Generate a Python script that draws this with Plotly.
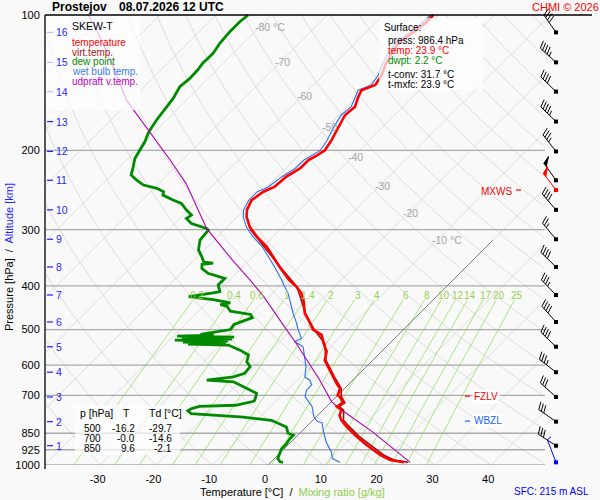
import numpy as np
import plotly.graph_objects as go

FONT = "Liberation Sans, Arial, sans-serif"
BG = "#f9f9f9"

# ---- sounding: pressure [hPa], temperature [°C] ----
temp_p = [986.4, 975, 950, 903, 865, 850, 822, 795, 775, 755, 742, 727, 705, 700,
          676, 659, 637, 610, 585, 560, 537, 514, 500, 481, 460, 430, 416, 402, 388,
          363, 327, 311, 296, 281, 271, 258, 253, 247, 241, 229, 219, 210, 206, 200,
          190, 177, 167, 160, 152, 147, 143, 136, 129, 122, 116, 110, 104, 100]
temp_t = [23.9, 21.0, 18.3, 14.1, 10.8, 9.6, 7.2, 5.1, 3.9, 3.3, 1.9, 2.3, 0.6, 0.0,
          -0.8, -2.3, -4.1, -6.5, -8.6, -9.8, -11.8, -13.7, -16.2, -18.2, -20.6, -23.2, -24.7, -26.8, -29.4,
          -33.4, -39.4, -42.9, -45.9, -48.3, -49.5, -50.4, -50.1, -49.8, -48.7, -48.4, -47.4, -47.4, -46.8, -46.2,
          -46.8, -48.0, -48.9, -48.6, -49.8, -50.4, -48.9, -49.5, -50.7, -51.6, -52.2, -51.6, -51.0, -51.0]

virt_p = [986.4, 975, 950, 903, 865, 822, 795, 755, 742, 727, 705, 676, 637, 585, 537, 500, 460, 402, 363, 300]
virt_t = [24.6, 21.7, 18.9, 14.7, 11.3, 7.7, 5.5, 3.7, 2.3, 2.6, 0.9, -0.6, -3.9, -8.4, -11.6, -16.0, -20.5, -26.7, -33.3, -45.3]

dew_p = [986.4, 983.8, 967.6, 943.6, 920, 897, 874.4, 858.6, 850, 823.7, 795.5, 783, 775.1, 768.9, 757.4,
         749.2, 741, 736.6, 721.8, 717.8, 700, 693, 675.6, 653.2, 647.6, 636.7, 625.6, 604.9, 589.7,
         569.7, 555.6, 541.4, 538.6, 535.8, 533.1, 530.3, 527.6, 524.9, 522.2, 519.6, 516.9, 514.3,
         512.6, 500, 487, 478.8, 470.6, 462.9, 455.2, 443.8, 440.1, 436.4, 429.2, 425.6, 422.3, 415.1,
         411.8, 398, 384.7, 375, 365.6, 358, 356, 354, 344.3, 332.8, 316.3, 300.5, 298.1, 290.6, 283.3,
         278.4, 271.3, 262.2, 257.8, 251.3, 247, 242.8, 238.7, 232.7, 226.8, 217.4, 208.3, 199.6, 191.3,
         183.3, 180, 171.1, 159.9, 153.2, 144.3, 138.3, 132.5, 128, 121.7, 115.6, 108.9, 103.5, 100]
dew_t = [2.2, 1.6, 0.6, 0.0, -0.5, -0.5, -0.8, -0.8, -2.1, -3.5, -7.4, -13.0, -19.9, -23.0, -24.1,
         -23.8, -22.8, -16.5, -14.0, -14.0, -14.6, -14.9, -17.6, -21.1, -26.2, -22.0, -20.6, -20.8, -22.3,
         -23.2, -25.6, -28.6, -36.0, -29.4, -37.3, -29.4, -39.1, -29.0, -38.2, -29.0, -39.4, -33.0,
         -35.5, -31.0, -31.3, -30.1, -29.2, -30.1, -34.3, -35.8, -37.3, -35.8, -39.4, -42.1, -44.4, -40.9,
         -39.7, -41.2, -41.2, -45.1, -47.1, -47.8, -46.0, -47.9, -49.2, -51.0, -52.5, -52.8, -53.4, -57.0, -58.8,
         -58.5, -60.3, -62.4, -64.5, -67.2, -67.7, -69.5, -72.5, -74.6, -76.5, -77.6, -78.8, -79.4, -80.0,
         -80.9, -81.2, -81.8, -82.4, -82.7, -83.6, -83.3, -83.4, -83.7, -83.6, -84.2, -84.5, -84.5, -84.2]

wet_p = [986.4, 967.6, 935, 889, 836, 807, 800, 780, 741, 705, 682, 664, 648, 637, 605, 575, 546, 532,
         523, 501, 484, 460, 437, 416, 402, 388, 363, 327, 311, 296, 281, 271, 258, 247, 241, 229, 219,
         210, 200, 190, 177, 167, 160, 152, 147, 143, 136, 129, 122, 116, 110, 104, 100]
wet_t = [12.4, 10.4, 9.0, 6.3, 3.6, 2.2, 1.0, -0.5, -2.6, -5.6, -6.5, -6.5, -7.7, -9.2, -10.8, -12.8, -14.9, -17.3,
         -16.7, -18.8, -20.3, -22.7, -25.0, -27.1, -28.9, -30.7, -34.3, -40.2, -43.6, -46.5, -48.9, -50.1, -50.9, -50.9, -49.8, -49.2, -48.3,
         -48.2, -47.0, -47.6, -48.8, -49.6, -49.3, -50.4, -51.0, -49.6, -50.1, -51.3, -52.2, -52.8, -52.2, -51.6, -51.5]

parcel_p = [986.4, 845, 749, 724, 648, 580, 537, 494, 441, 422, 388, 351, 298, 237, 210, 183, 155, 128, 106, 100]
parcel_t = [25.0, 12.9, 2.7, 0.1, -5.9, -12.2, -16.7, -21.7, -28.3, -31.0, -36.4, -43.0, -53.4, -65.1, -72.2,
            -80.6, -90.6, -100.0, -109.6, -112.9]

# altitude scale (km) and the pressure of each level; winds are plotted at the same levels
alt_km = list(range(1, 17))
alt_p = [906, 801, 706, 622, 546, 481, 419, 363, 315, 271, 233, 201, 172.5, 148, 127.4, 109.3]
wind_dir = [303, 305, 312, 308, 314, 318, 316, 314, 320, 319, 325, 322, 314, 314, 312, 325]
wind_kt = [30, 30, 30, 35, 40, 40, 35, 40, 25, 40, 50, 35, 45, 40, 45, 40]
sfc_dir, sfc_kt = 339, 5
mxws_p, mxws_dir, mxws_kt = 244.9, 323, 50
fzlv_p = 703
wbzl_p = 799

sfc_press, sfc_temp, sfc_dwpt, t_conv, t_mxfc = 986.4, 23.9, 2.2, 31.7, 23.9
table_p = [500, 700, 850]
table_t = [-16.2, -0.0, 9.6]
table_td = [-29.7, -14.6, -2.1]

pressure_ticks = [100, 200, 300, 400, 500, 600, 700, 850, 925, 1000]
temp_ticks = [-30, -20, -10, 0, 10, 20, 30, 40]
iso_label_t = [-80, -70, -60, -50, -40, -30, -20, -10]
iso_label_p = [106.3, 127.2, 151.4, 177.4, 206.9, 240, 275.5, 316.3]
mix_ratios = [0.2, 0.4, 0.6, 1, 1.4, 2, 3, 4, 6, 8, 10, 12, 14, 17, 20, 25]
mix_label_p = 419

# ---- geometry of the skew-T ----
W, H = 600, 500
ML, MR, MT, MB = 45, 5, 0, 35
PW, PH = W - ML - MR, H - MT - MB
PX_DEG = 5.58          # pixels per °C along an isobar
PX_DEC = 450.0         # pixels per decade of pressure
T0_PX = 223            # 0 °C at 1000 hPa, pixels from the plot's left edge
x_range = [-T0_PX / PX_DEG, (PW - T0_PX) / PX_DEG]
y_range = [3.0, 3.0 - PH / PX_DEC]
SKEW = PX_DEC / np.log(10) / PX_DEG     # 45° isotherms
X_EDGE = (500 - T0_PX) / PX_DEG         # diagram ends at x = 545 px


def skx(t, p):
    return np.asarray(t, float) + SKEW * np.log(1000.0 / np.asarray(p, float))


def xpx(x):
    return x_range[0] + (x - ML) / PX_DEG


def paper(x, y):
    return (x - ML) / PW, (H - MB - y) / PH


def joined(lines):
    xs, ys = [], []
    for X, P in lines:
        X = np.asarray(X, float)
        for a, b in zip(X, P):
            xs.append(None if (np.isnan(a) or a > X_EDGE) else float(a))
            ys.append(float(b))
        xs.append(None)
        ys.append(None)
    return xs, ys


fig = go.Figure()

def line(x, y, color, width, **kw):
    fig.add_trace(go.Scatter(x=x, y=y, mode="lines", line=dict(color=color, width=width),
                             hoverinfo="skip", connectgaps=False, **kw))

# ---- background lines ----
pp = np.geomspace(100, 1000, 400)
iso = [(skx(np.full_like(pp, t), pp), pp) for t in range(-140, 60, 10)]
line(*joined(iso), "#d6d6d6", 0.8)

theta = [(skx((th + 273.15) * (pp / 1000.0) ** 0.2857 - 273.15, pp), pp) for th in range(-40, 210, 10)]
line(*joined(theta), "#d6d6d6", 0.8)

pm = np.geomspace(430, 1000, 60)
mix = []
for w in mix_ratios:
    e = w * pm / (622.0 + w)
    g = np.log(e / 6.112)
    mix.append((skx(243.5 * g / (17.67 - g), pm), pm))
line(*joined(mix), "#9fe372", 0.9)

bars = [([x_range[0], X_EDGE], [p, p]) for p in pressure_ticks[1:]]
line(*joined(bars), "#aaaaaa", 1.3)

p0 = np.geomspace(316, 1000, 20)
line(*joined([(skx(np.zeros_like(p0), p0), p0)]), "#777777", 0.9)

# altitude ticks
kx, ky = [], []
for p in alt_p:
    kx += [xpx(47), xpx(53), None]
    ky += [p, p, None]
line(kx, ky, "#1f1fff", 1.2)

# level marks
line([xpx(465), xpx(470)], [fzlv_p, fzlv_p], "#ff0000", 1.2)
line([xpx(465), xpx(470)], [wbzl_p, wbzl_p], "#2266ee", 1.2)
line([xpx(516), xpx(521)], [mxws_p, mxws_p], "#ff0000", 1.2)

# ---- sounding ----
line(skx(dew_t, dew_p), dew_p, "#008a00", 2.8)
line(skx(wet_t, wet_p), wet_p, "#2a6fe8", 1.1)
line(skx(parcel_t, parcel_p), parcel_p, "#b000b0", 1.1)
line(skx(virt_t, virt_p), virt_p, "#9a1010", 1.6)
line(skx(temp_t, temp_p), temp_p, "#ff0000", 2.6)

# ---- wind barbs ----
XB = xpx(556)


def barb(p_lev, wdir, kt, length=21.0):
    a = np.radians(wdir)
    ux, uy = np.sin(a), -np.cos(a)
    lean = np.radians(20)
    vx = -uy * np.cos(lean) + ux * np.sin(lean)
    vy = ux * np.cos(lean) + uy * np.sin(lean)
    segs = [[(0, 0), (ux * length, uy * length)]]
    flags = []
    n50, rest = divmod(int(kt), 50)
    n10, rest = divmod(rest, 10)
    s = length
    for _ in range(n50):
        flags.append([(ux * s, uy * s), (ux * s + vx * 8, uy * s + vy * 8), (ux * (s - 4), uy * (s - 4))])
        s -= 6
    for _ in range(n10):
        segs.append([(ux * s, uy * s), (ux * s + vx * 8, uy * s + vy * 8)])
        s -= 3
    if rest >= 5:
        segs.append([(ux * s, uy * s), (ux * s + vx * 5, uy * s + vy * 5)])

    def conv(pts):
        return [XB + dx / PX_DEG for dx, dy in pts], [p_lev * 10 ** (dy / PX_DEC) for dx, dy in pts]
    return [conv(sg) for sg in segs], [conv(f) for f in flags]


def draw_barb(p_lev, wdir, kt, color, length=21.0):
    segs, flags = barb(p_lev, wdir, kt, length)
    bx, by = [], []
    for X, P in segs:
        bx += X + [None]
        by += P + [None]
    line(bx, by, color, 1.0)
    for X, P in flags:
        fig.add_trace(go.Scatter(x=X + [X[0]], y=P + [P[0]], mode="lines", fill="toself",
                                 fillcolor=color, line=dict(color=color, width=1), hoverinfo="skip"))


for p, d, k in zip(alt_p, wind_dir, wind_kt):
    draw_barb(p, d, k, "black")
draw_barb(mxws_p, mxws_dir, mxws_kt, "#ff0000")
draw_barb(sfc_press, sfc_dir, sfc_kt, "#0000ff", length=24)

fig.add_trace(go.Scatter(x=[XB] * len(alt_p), y=alt_p, mode="markers", hoverinfo="skip",
                         marker=dict(symbol="square", size=4, color="black")))
fig.add_trace(go.Scatter(x=[XB, XB], y=[mxws_p, sfc_press], mode="markers", hoverinfo="skip",
                         marker=dict(symbol="square", size=4, color=["#ff0000", "#0000ff"])))

# ---- texts ----
anns = []


def note(text, x, y, size=10, color="black", xanchor="left", bold=False, **kw):
    px_, py_ = paper(x, y)
    if bold:
        text = "<b>" + text + "</b>"
    anns.append(dict(text=text, x=px_, y=py_, xref="paper", yref="paper", xanchor=xanchor,
                     yanchor="middle", showarrow=False,
                     font=dict(size=size, color=color, family=FONT), **kw))


note("Prostejov", 50, 7, 12, bold=True)
note("08.07.2026 12 UTC", 117, 7, 12, bold=True)
note("CHMI © 2026", 530, 7, 11, "#ff0000")
note("SFC: 215 m ASL", 512, 491, 10, "#0000ff")
note('Temperature [°C]  /  <span style="color:#8ccf4a">Mixing ratio [g/kg]</span>', 292, 492, 11,
     xanchor="center")
note('Pressure [hPa]  /  <span style="color:#1f1fff">Altitude [km]</span>', 9, 257, 11,
     xanchor="center", textangle=-90)

note("SKEW-T", 70, 26, 10.5)
for i, (txt, col) in enumerate([("temperature", "#ff0000"), ("virt.temp.", "#a01818"),
                                ("dew point", "#008a00"), ("wet bulb temp.", "#3a7cf0"),
                                ("udpraft v.temp.", "#c000c0")]):
    note(txt, 70, 42.3 + 9.85 * i, 10, col)

note("Surface:", 382, 27, 10)
note(f"press: {sfc_press:.1f} hPa", 386, 40, 10)
note(f"temp: {sfc_temp:.1f} °C", 386, 50, 10, "#ff0000")
note(f"dwpt: {sfc_dwpt:.1f} °C", 386, 60, 10, "#008a00")
note(f"t-conv: {t_conv:.1f} °C", 386, 74.5, 10)
note(f"t-mxfc: {t_mxfc:.1f} °C", 386, 84.5, 10)

note("p [hPa]", 78, 413, 10.5)
note("T", 126.7, 413, 10.5, xanchor="center")
note("Td [°C]", 146.5, 413, 10.5)
for i, (p, t, td) in enumerate(zip(table_p, table_t, table_td)):
    yy = 428.3 + 10.3 * i
    note(f"{p}", 102.5, yy, 10, xanchor="right")
    note(f"{t:.1f}", 137, yy, 10, xanchor="right")
    note(f"{td:.1f}", 173.5, yy, 10, xanchor="right")

note("FZLV", 472, 396, 10, "#ff0000", bgcolor="rgba(255,255,255,0.85)")
note("WBZL", 472, 420.5, 10, "#2266ee", bgcolor="rgba(255,255,255,0.85)")
note("MXWS", 513.5, 191, 10, "#ff0000", xanchor="right")

# altitude numbers
for km, p in zip(alt_km, alt_p):
    anns.append(dict(text=str(km), x=paper(54, 0)[0], y=np.log10(p), xref="paper", yref="y",
                     xanchor="left", yanchor="middle", showarrow=False,
                     font=dict(size=10.5, color="#1f1fff", family=FONT)))

# isotherm labels
for t, p in zip(iso_label_t, iso_label_p):
    txt = f"{t} °C" if t in (iso_label_t[0], iso_label_t[-1]) else f"{t}"
    anns.append(dict(text=txt, x=float(skx(t, p)) - 7 / PX_DEG, y=np.log10(p), xref="x", yref="y",
                     xanchor="left", yanchor="middle", showarrow=False,
                     font=dict(size=10.5, color="#a3a3a3", family=FONT)))

# mixing ratio labels
for w in mix_ratios:
    e = w * mix_label_p / (622.0 + w)
    g = np.log(e / 6.112)
    xm = float(skx(243.5 * g / (17.67 - g), mix_label_p))
    anns.append(dict(text=f"{w:g}", x=xm, y=np.log10(mix_label_p), xref="x", yref="y",
                     xanchor="center", yanchor="middle", showarrow=False,
                     font=dict(size=10, color="#96d24e", family=FONT)))

# ---- boxes and frame ----
shapes = []


def box(x0, y0, x1, y1):
    a0, b0 = paper(x0, y1)
    a1, b1 = paper(x1, y0)
    shapes.append(dict(type="rect", xref="paper", yref="paper", x0=a0, y0=b0, x1=a1, y1=b1,
                       fillcolor="rgba(255,255,255,0.7)", line=dict(width=0), layer="above"))


def edge(x0, y0, x1, y1, width=1.3):
    a0, b0 = paper(x0, y0)
    a1, b1 = paper(x1, y1)
    shapes.append(dict(type="line", xref="paper", yref="paper", x0=a0, y0=b0, x1=a1, y1=b1,
                       line=dict(color="black", width=width), layer="above"))


box(45, 15, 140, 110)
box(379, 18, 483, 90)
box(75, 405, 180, 455)
edge(45, 15, 592, 15)
edge(45, 15, 45, 469)

fig.update_layout(
    width=W, height=H, margin=dict(l=ML, r=MR, t=MT, b=MB),
    paper_bgcolor=BG, plot_bgcolor=BG, showlegend=False,
    xaxis=dict(range=x_range, showgrid=False, zeroline=False, showline=False, fixedrange=True,
               tickvals=temp_ticks, ticktext=[str(t) for t in temp_ticks],
               ticks="outside", ticklen=4, tickcolor="rgba(0,0,0,0)", ticklabelshift=-3,
               tickfont=dict(size=11, color="black", family=FONT)),
    yaxis=dict(type="log", range=y_range, showgrid=False, zeroline=False, showline=False,
               fixedrange=True, tickvals=pressure_ticks, ticktext=[str(p) for p in pressure_ticks],
               ticks="outside", ticklen=2, tickcolor="rgba(0,0,0,0)",
               tickfont=dict(size=11, color="black", family=FONT)),
    annotations=anns, shapes=shapes,
)

# the page's default body margin would push the 600x500 figure out of the window
fig.write_html("out.html", config={"displayModeBar": False},
               post_script="document.body.style.margin='0';")
